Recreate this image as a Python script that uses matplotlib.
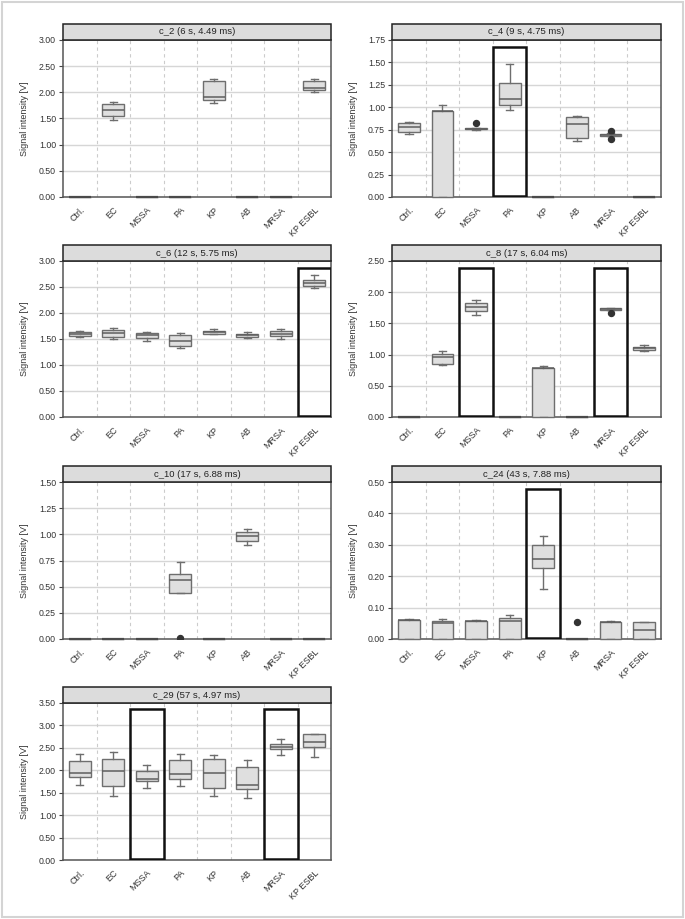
import numpy as np
import matplotlib.pyplot as plt
from matplotlib.patches import Rectangle
from matplotlib.transforms import ScaledTranslation

plt.rcParams['font.family'] = ['Liberation Sans', 'DejaVu Sans']

categories = ["Ctrl.", "EC", "MSSA", "PA", "KP", "AB", "MRSA", "KP ESBL"]

# five-number summaries per category: whisker low, q1, median, q3, whisker high
Z = [0, 0, 0, 0, 0]
c2 = [Z, [1.47, 1.54, 1.66, 1.77, 1.81], Z, Z, [1.79, 1.86, 1.92, 2.21, 2.25], Z, Z,
      [2.01, 2.04, 2.09, 2.21, 2.25]]
c4 = [[0.705, 0.72, 0.78, 0.82, 0.84], [0, 0, 0.96, 0.96, 1.02], [0.75, 0.755, 0.76, 0.765, 0.77],
      [0.97, 1.02, 1.09, 1.27, 1.48], Z, [0.62, 0.66, 0.81, 0.89, 0.90],
      [0.68, 0.685, 0.695, 0.705, 0.71], Z]
c6 = [[1.53, 1.55, 1.60, 1.63, 1.65], [1.50, 1.53, 1.61, 1.67, 1.72], [1.46, 1.52, 1.57, 1.62, 1.64],
      [1.33, 1.36, 1.46, 1.57, 1.61], [1.59, 1.60, 1.63, 1.66, 1.70], [1.52, 1.54, 1.57, 1.60, 1.64],
      [1.50, 1.55, 1.60, 1.65, 1.69], [2.48, 2.51, 2.57, 2.64, 2.74]]
c8 = [Z, [0.84, 0.85, 0.96, 1.01, 1.05], [1.63, 1.70, 1.76, 1.82, 1.88], Z,
      [0, 0, 0.79, 0.79, 0.81], Z, [1.71, 1.72, 1.73, 1.74, 1.75], [1.06, 1.07, 1.10, 1.12, 1.15]]
c10 = [Z, Z, Z, [0.44, 0.44, 0.56, 0.62, 0.74], Z, [0.90, 0.94, 0.98, 1.02, 1.05], Z, Z]
c24 = [[0, 0, 0.059, 0.059, 0.065], [0, 0, 0.051, 0.056, 0.065], [0, 0, 0.056, 0.056, 0.060],
       [0, 0, 0.056, 0.067, 0.077], [0.158, 0.227, 0.256, 0.298, 0.328], Z,
       [0, 0, 0.055, 0.055, 0.056], [0, 0, 0.0275, 0.054, 0.054]]
c29 = [[1.67, 1.84, 1.94, 2.21, 2.37], [1.43, 1.65, 1.99, 2.25, 2.40], [1.61, 1.76, 1.81, 1.99, 2.11],
       [1.64, 1.81, 1.91, 2.22, 2.37], [1.42, 1.60, 1.95, 2.25, 2.34], [1.39, 1.59, 1.68, 2.07, 2.22],
       [2.34, 2.47, 2.53, 2.59, 2.70], [2.30, 2.51, 2.62, 2.80, 2.82]]

# outliers: {category index: [values]}
c4_fliers = {2: [0.82], 6: [0.74, 0.65]}
c8_fliers = {6: [1.665]}
c10_fliers = {3: [0.005]}
c24_fliers = {5: [0.053]}

titles = ["c_2 (6 s, 4.49 ms)", "c_4 (9 s, 4.75 ms)", "c_6 (12 s, 5.75 ms)", "c_8 (17 s, 6.04 ms)",
          "c_10 (17 s, 6.88 ms)", "c_24 (43 s, 7.88 ms)", "c_29 (57 s, 4.97 ms)"]
stats = [c2, c4, c6, c8, c10, c24, c29]
fliers = [{}, c4_fliers, {}, c8_fliers, c10_fliers, c24_fliers, {}]
ymax = [3.0, 1.75, 3.0, 2.5, 1.5, 0.5, 3.5]
ystep = [0.5, 0.25, 0.5, 0.5, 0.25, 0.1, 0.5]
highlight = [[], [3], [7], [2, 6], [], [4], [2, 6]]
highlight_top = [0, 1.668, 2.872, 2.394, 0, 0.479, 3.366]

W, H = 685, 919
fig = plt.figure(figsize=(W / 100, H / 100), dpi=100)
fig.patches.append(Rectangle((2 / W, 2 / H), 1 - 4 / W, 1 - 4 / H, transform=fig.transFigure,
                             fill=False, edgecolor='#d4d4d4', lw=1.5))

cols = [(63, 331), (392, 661)]
rows = [(40, 197), (261, 417), (482, 639), (703, 860)]

for k in range(7):
    x0, x1 = cols[k % 2]
    yt, yb = rows[k // 2]
    ax = fig.add_axes([x0 / W, 1 - yb / H, (x1 - x0) / W, (yb - yt) / H])

    bx = []
    for i, s in enumerate(stats[k]):
        bx.append(dict(whislo=s[0], q1=s[1], med=s[2], q3=s[3], whishi=s[4],
                       fliers=fliers[k].get(i, [])))
    arts = ax.bxp(bx, positions=np.arange(8), widths=0.65, patch_artist=True, capwidths=0.22,
                  boxprops=dict(facecolor='#dfdfdf', edgecolor='#6e6e6e', lw=1),
                  medianprops=dict(color='#5e5e5e', lw=1.1),
                  whiskerprops=dict(color='#6e6e6e', lw=1),
                  capprops=dict(color='#6e6e6e', lw=1),
                  flierprops=dict(marker='o', markerfacecolor='#333333', markeredgecolor='#333333',
                                  markersize=4.3),
                  manage_ticks=False, zorder=3)
    for i, s in enumerate(stats[k]):
        if max(s) == 0:
            arts['medians'][i].set_linewidth(1.6)
            arts['medians'][i].set_color('#4a4a4a')
        arts['medians'][i].set_clip_on(False)
        arts['boxes'][i].set_clip_on(False)

    for i in highlight[k]:
        ax.add_patch(Rectangle((i - 0.5, ymax[k] * 0.006), 1, highlight_top[k] - ymax[k] * 0.006,
                               fill=False, edgecolor='#111111', lw=1.8, zorder=4))

    ax.set_xlim(-0.5, 7.5)
    ax.set_ylim(0, ymax[k])
    yt_vals = np.arange(0, ymax[k] + 1e-9, ystep[k])
    ax.set_yticks(yt_vals)
    ax.set_yticklabels(['%.2f' % v for v in yt_vals])
    ax.set_xticks(np.arange(8))
    ax.set_xticklabels(categories, rotation=45, ha='right', rotation_mode='anchor')
    shift = ScaledTranslation(6 / 100, 0, fig.dpi_scale_trans)
    for lab in ax.get_xticklabels():
        lab.set_transform(lab.get_transform() + shift)
    ax.tick_params(axis='x', length=0, pad=6, labelsize=6.5, labelcolor='#333333')
    ax.tick_params(axis='y', length=3, width=0.8, color='#444444', pad=2, labelsize=6.3,
                   labelcolor='#333333')
    for v in yt_vals[1:-1]:
        ax.axhline(v, color='#d6d6d6', lw=1, zorder=1)
    for xv in np.arange(0.5, 7.5, 1):
        ax.axvline(xv, color='#cccccc', lw=0.8, ls=(0, (3, 3)), zorder=1)
    for sp in ax.spines.values():
        sp.set_color('#555555')
        sp.set_linewidth(1.1)
    ax.set_ylabel('Signal intensity [V]', fontsize=6.5, color='#333333', labelpad=7)

    # grey title strip
    sh = 16 / (yb - yt)
    ax.add_patch(Rectangle((0, 1), 1, sh, transform=ax.transAxes, clip_on=False,
                           facecolor='#dcdcdc', edgecolor='#222222', lw=1.1, zorder=5))
    ax.text(0.5, 1 + sh / 2, titles[k], transform=ax.transAxes, ha='center', va='center',
            fontsize=6.8, color='#222222', zorder=6)

fig.savefig('out.png', dpi=100)
